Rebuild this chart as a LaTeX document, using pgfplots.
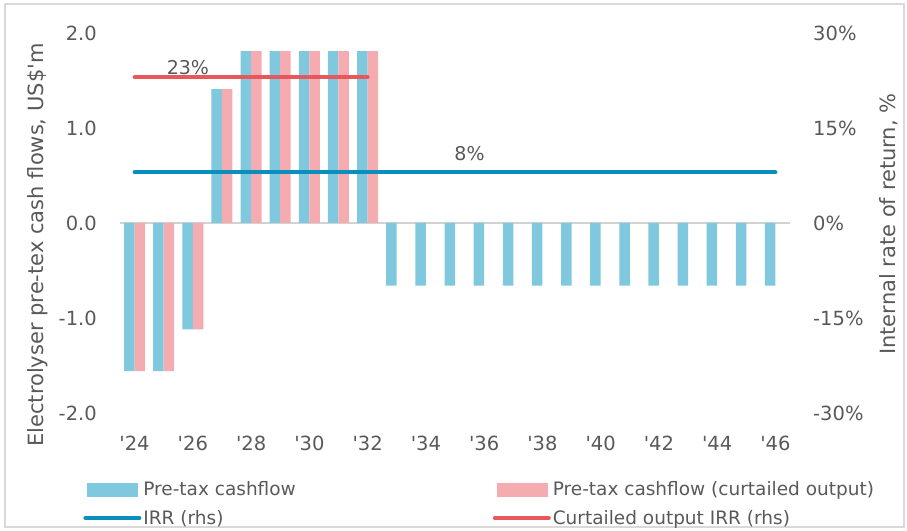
\documentclass[border=0pt]{standalone}
\usepackage{pgfplots}
\usepackage{pgfplotstable}
\pgfplotsset{compat=1.18}
\usepackage{fontspec}
\setmainfont{DejaVu Sans}

\definecolor{barblue}{HTML}{7FC8DD}
\definecolor{barpink}{HTML}{F4ACB0}
\definecolor{lineblue}{HTML}{0A8FBD}
\definecolor{linered}{HTML}{E8575C}
\definecolor{txt}{HTML}{595959}

% year index (0 = 2024), pre-tax cashflow, curtailed output cashflow (US$m)
\pgfplotstableread{
x  base   curt
0  -1.56  -1.56
1  -1.56  -1.56
2  -1.12  -1.12
3   1.41   1.41
4   1.81   1.81
5   1.81   1.81
6   1.81   1.81
7   1.81   1.81
8   1.81   1.81
9  -0.66   nan
10 -0.66   nan
11 -0.66   nan
12 -0.66   nan
13 -0.66   nan
14 -0.66   nan
15 -0.66   nan
16 -0.66   nan
17 -0.66   nan
18 -0.66   nan
19 -0.66   nan
20 -0.66   nan
21 -0.66   nan
22 -0.66   nan
}\cashflow

\pgfplotsset{
  base/.style={
    scale only axis, width=670pt, height=380pt,
    xmin=-0.5, xmax=22.5,
    axis line style={draw=none},
    major tick length=0pt,
    tick label style={font=\fontsize{19.5}{23}\selectfont, text=txt},
    label style={font=\fontsize{21}{25}\selectfont, text=txt},
  }
}

\begin{document}
\begin{tikzpicture}
\path[use as bounding box] (-120pt,-117pt) rectangle (787pt,413pt);
\draw[gray!30, line width=1.5pt] (-115pt,-114pt) rectangle (784pt,409pt);

\begin{axis}[
    base,
    ybar=0pt, bar width=10.5pt,
    ymin=-2, ymax=2,
    ytick={-2,-1,0,1,2},
    yticklabels={-2.0,-1.0,0.0,1.0,2.0},
    yticklabel style={anchor=east, inner sep=0pt, xshift=-23pt},
    xtick={0,2,...,22},
    xticklabels={\textquotesingle24,\textquotesingle26,\textquotesingle28,\textquotesingle30,\textquotesingle32,\textquotesingle34,\textquotesingle36,\textquotesingle38,\textquotesingle40,\textquotesingle42,\textquotesingle44,\textquotesingle46},
    xticklabel style={anchor=center, inner sep=0pt, yshift=-30pt},
    extra y ticks={0},
    extra y tick labels={},
    extra y tick style={grid=major, major grid style={draw=gray!35, line width=1.5pt}},
    ylabel={Electrolyser pre-tex cash flows, US\$\textquotesingle m},
    ylabel style={at={(axis description cs:-0.1224,0.442)}, anchor=center},
]
\addplot[fill=barblue, draw=none] table[x=x, y=base] {\cashflow};
\addplot[fill=barpink, draw=none] table[x=x, y=curt] {\cashflow};
\end{axis}

\begin{axis}[
    base,
    ymin=-30, ymax=30,
    ytick={-30,-15,0,15,30},
    yticklabels={-30\%,-15\%,0\%,15\%,30\%},
    yticklabel pos=right,
    yticklabel style={anchor=west, inner sep=0pt, xshift=23pt},
    xtick=\empty,
    ylabel={Internal rate of return, \%},
    ylabel style={at={(axis description cs:1.147,0.497)}, anchor=center, rotate=0},
    legend columns=2,
    legend cell align=left,
    legend style={
        at={(axis description cs:-0.055,-0.175)}, anchor=north west,
        draw=none, fill=none, inner sep=0pt,
        font=\fontsize{18.5}{22}\selectfont, text=txt,
        row sep=9pt,
        /tikz/column 2/.style={column sep=195pt},
    },
]
\addlegendimage{legend image code/.code={\fill[barblue] (0pt,-6.5pt) rectangle (50pt,6.5pt);}}
\addlegendentry{Pre-tax cashflow}
\addlegendimage{legend image code/.code={\fill[barpink] (0pt,-6.5pt) rectangle (50pt,6.5pt);}}
\addlegendentry{Pre-tax cashflow (curtailed output)}
\addplot[lineblue, line width=4pt, line cap=round, mark=none,
    legend image code/.code={\draw[lineblue, line width=4pt, line cap=round] (-2pt,0pt) -- (52pt,0pt);}]
    coordinates {(0,8) (22,8)};
\addlegendentry{IRR (rhs)}
\addplot[linered, line width=4pt, line cap=round, mark=none,
    legend image code/.code={\draw[linered, line width=4pt, line cap=round] (-2pt,0pt) -- (52pt,0pt);}]
    coordinates {(0,23) (8,23)};
\addlegendentry{Curtailed output IRR (rhs)}
\node[font=\fontsize{19}{22}\selectfont, text=txt] at (axis cs:1.83,24.6) {23\%};
\node[font=\fontsize{19}{22}\selectfont, text=txt] at (axis cs:11.5,10.9) {8\%};
\end{axis}
\end{tikzpicture}
\end{document}
